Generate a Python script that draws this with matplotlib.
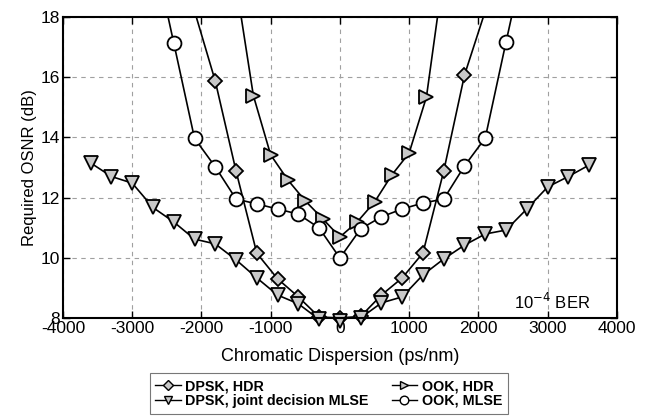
import matplotlib
matplotlib.use("Agg")
import matplotlib.pyplot as plt
from matplotlib.lines import Line2D

plt.rcParams['font.family'] = ['Liberation Sans', 'DejaVu Sans']

# DPSK, HDR (diamonds)
dpsk_hdr_x = [-2100, -1800, -1500, -1200, -900, -600, -300, 0, 300, 600, 900, 1200, 1500, 1800, 2100]
dpsk_hdr_y = [18.2, 15.87, 12.88, 10.15, 9.3, 8.7, 8.03, 8.0, 8.05, 8.76, 9.33, 10.16, 12.88, 16.07, 18.2]

# DPSK, joint decision MLSE (down triangles)
dpsk_mlse_x = [-3600, -3300, -3000, -2700, -2400, -2100, -1800, -1500, -1200, -900, -600, -300, 0,
               300, 600, 900, 1200, 1500, 1800, 2100, 2400, 2700, 3000, 3300, 3600]
dpsk_mlse_y = [13.15, 12.7, 12.48, 11.67, 11.19, 10.62, 10.46, 9.93, 9.33, 8.76, 8.47, 7.95, 7.9,
               8.0, 8.5, 8.7, 9.43, 9.96, 10.42, 10.79, 10.92, 11.62, 12.35, 12.7, 13.08]

# OOK, HDR (right triangles)
ook_hdr_x = [-1500, -1250, -1000, -750, -500, -250, 0, 250, 500, 750, 1000, 1250, 1500]
ook_hdr_y = [19.1, 15.39, 13.42, 12.58, 11.89, 11.3, 10.69, 11.19, 11.85, 12.75, 13.48, 15.34, 19.5]

# OOK, MLSE (circles)
ook_mlse_x = [-2700, -2400, -2100, -1800, -1500, -1200, -900, -600, -300, 0, 300, 600, 900,
              1200, 1500, 1800, 2100, 2400, 2700]
ook_mlse_y = [20.3, 17.14, 13.97, 13.02, 11.95, 11.79, 11.62, 11.45, 10.99, 9.99, 10.96, 11.36, 11.62,
              11.82, 11.95, 13.05, 13.98, 17.17, 20.3]

labels = ['DPSK, HDR', 'DPSK, joint decision MLSE', 'OOK, HDR', 'OOK, MLSE']
xticks = [-4000, -3000, -2000, -1000, 0, 1000, 2000, 3000, 4000]
yticks = [8, 10, 12, 14, 16, 18]
ymin, ymax = 8, 18

gray = '#c8c8c8'

fig = plt.figure(figsize=(6.52, 4.2), dpi=100)
ax = fig.add_axes([0.0966, 0.243, 0.8494, 0.7165])

lw = 1.2
mew = 1.3
series = [
    (dpsk_hdr_x, dpsk_hdr_y, 'D', 7.5, gray),
    (dpsk_mlse_x, dpsk_mlse_y, 'v', 10, gray),
    (ook_hdr_x, ook_hdr_y, '>', 10, gray),
    (ook_mlse_x, ook_mlse_y, 'o', 10, 'white'),
]
handles = []
for (xs, ys, mk, ms, fc), lab in zip(series, labels):
    ax.plot(xs, ys, '-', color='black', lw=lw, zorder=3)
    inx = [x for x, y in zip(xs, ys) if ymin - 0.3 <= y <= ymax]
    iny = [y for y in ys if ymin - 0.3 <= y <= ymax]
    ax.plot(inx, iny, linestyle='none', marker=mk, ms=ms, mfc=fc, mec='black',
            mew=mew, zorder=4, clip_on=False)
    handles.append(Line2D([], [], color='black', lw=1.0, marker=mk, ms=ms * 0.62,
                          mfc=fc, mec='black', mew=1.0, label=lab))

ax.set_xlim(-4000, 4000)
ax.set_ylim(ymin, ymax)
ax.set_xticks(xticks)
ax.set_yticks(yticks)
ax.set_xticklabels([str(t) for t in xticks])
ax.set_yticklabels([str(t) for t in yticks])
ax.tick_params(direction='in', top=True, right=True, length=5, width=1, labelsize=12.5, pad=2)
ax.grid(True, linestyle=(0, (4, 4)), color='#a0a0a0', lw=0.8)
for s in ax.spines.values():
    s.set_linewidth(1.5)
    s.set_zorder(5)

ax.set_xlabel('Chromatic Dispersion (ps/nm)', fontsize=13, labelpad=9)
ax.set_ylabel('Required OSNR (dB)', fontsize=12, labelpad=3)

ax.text(3620, 8.2, r'10$^{-4}$ BER', ha='right', va='bottom', fontsize=12)

leg = fig.legend(handles=handles, loc='upper center', bbox_to_anchor=(0.504, 0.111), ncol=2,
                 prop={'weight': 'bold', 'size': 10.3},
                 handlelength=1.8, handletextpad=0.3, columnspacing=1.6,
                 labelspacing=0.05, borderpad=0.4, borderaxespad=0, fancybox=False, frameon=True)
leg.get_frame().set_edgecolor('#555555')
leg.get_frame().set_linewidth(0.8)

fig.savefig('out.png', dpi=100)
